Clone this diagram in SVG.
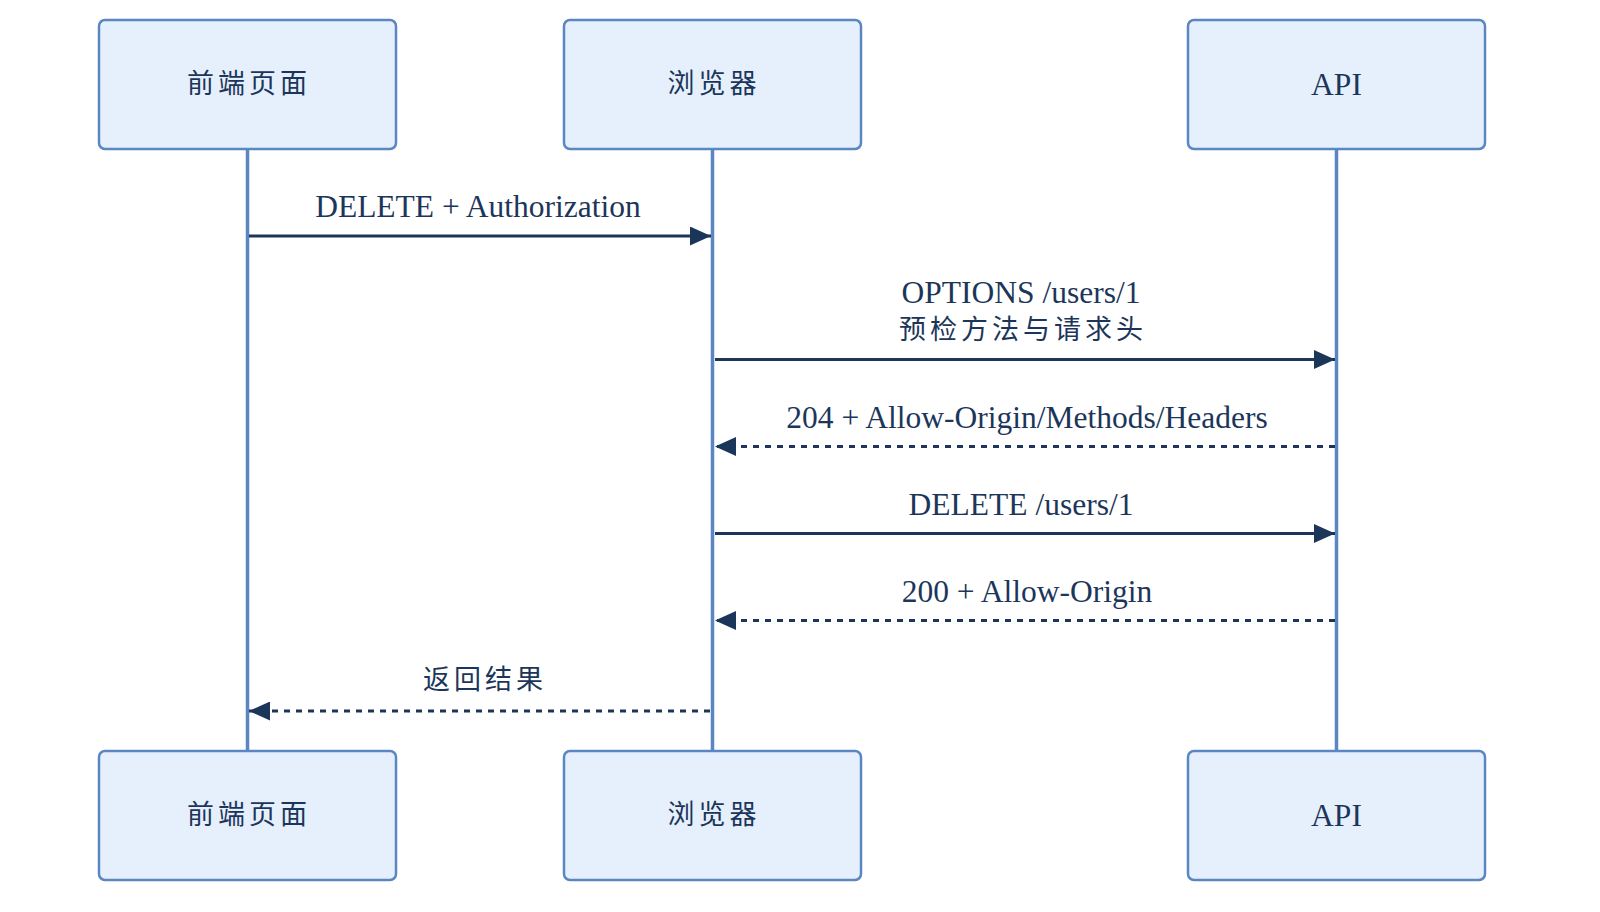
<svg xmlns="http://www.w3.org/2000/svg" width="1600" height="912" viewBox="0 0 1600 912">
<defs>
<style>
.box{fill:#e6f0fd;stroke:#5a86c2;stroke-width:2.5}
.life{stroke:#5a86c2;stroke-width:3.5;fill:none}
.lbl{font-family:"Liberation Serif","Noto Sans CJK SC",serif;font-size:31.5px;fill:#1c365a;text-anchor:middle}
.cjk{font-family:"Noto Sans CJK SC",sans-serif;font-size:27px;fill:#1c365a;text-anchor:middle;letter-spacing:4px}
.msg{stroke:#1c365a;stroke-width:3;fill:none}
.dash{stroke-dasharray:6 6}
</style>
<marker id="ah" viewBox="0 0 21 19" refX="21" refY="9.5" markerWidth="21" markerHeight="19" markerUnits="userSpaceOnUse" orient="auto">
<path d="M0,0 L21,9.5 L0,19 Z" fill="#1c365a"/>
</marker>
</defs>
<rect width="1600" height="912" fill="#ffffff"/>
<g id="lifelines">
<line class="life" x1="247.5" y1="148" x2="247.5" y2="751"/>
<line class="life" x1="712.5" y1="148" x2="712.5" y2="751"/>
<line class="life" x1="1336.5" y1="148" x2="1336.5" y2="751"/>
</g>
<g id="node-frontend-top">
<rect class="box" x="99" y="20" width="297" height="129" rx="6"/>
<text class="cjk" x="249" y="93">前端页面</text>
</g>
<g id="node-browser-top">
<rect class="box" x="564" y="20" width="297" height="129" rx="6"/>
<text class="cjk" x="714" y="93">浏览器</text>
</g>
<g id="node-api-top">
<rect class="box" x="1188" y="20" width="297" height="129" rx="6"/>
<text class="lbl" x="1336.5" y="95">API</text>
</g>
<g id="node-frontend-bottom">
<rect class="box" x="99" y="751" width="297" height="129" rx="6"/>
<text class="cjk" x="249" y="824">前端页面</text>
</g>
<g id="node-browser-bottom">
<rect class="box" x="564" y="751" width="297" height="129" rx="6"/>
<text class="cjk" x="714" y="824">浏览器</text>
</g>
<g id="node-api-bottom">
<rect class="box" x="1188" y="751" width="297" height="129" rx="6"/>
<text class="lbl" x="1336.5" y="826">API</text>
</g>
<g id="connectors">
<line class="msg" x1="249" y1="236" x2="711" y2="236" marker-end="url(#ah)"/>
<text class="lbl" x="478" y="217">DELETE + Authorization</text>
<line class="msg" x1="715" y1="359.5" x2="1335" y2="359.5" marker-end="url(#ah)"/>
<text class="lbl" x="1021" y="303">OPTIONS /users/1</text>
<text class="cjk" x="1023" y="339">预检方法与请求头</text>
<line class="msg dash" x1="1335" y1="446.5" x2="715" y2="446.5" marker-end="url(#ah)"/>
<text class="lbl" x="1027" y="428">204 + Allow-Origin/Methods/Headers</text>
<line class="msg" x1="715" y1="533.5" x2="1335" y2="533.5" marker-end="url(#ah)"/>
<text class="lbl" x="1021" y="515">DELETE /users/1</text>
<line class="msg dash" x1="1335" y1="620.5" x2="715" y2="620.5" marker-end="url(#ah)"/>
<text class="lbl" x="1027" y="602">200 + Allow-Origin</text>
<line class="msg dash" x1="710" y1="711" x2="249" y2="711" marker-end="url(#ah)"/>
<text class="cjk" x="485" y="689">返回结果</text>
</g>
</svg>
